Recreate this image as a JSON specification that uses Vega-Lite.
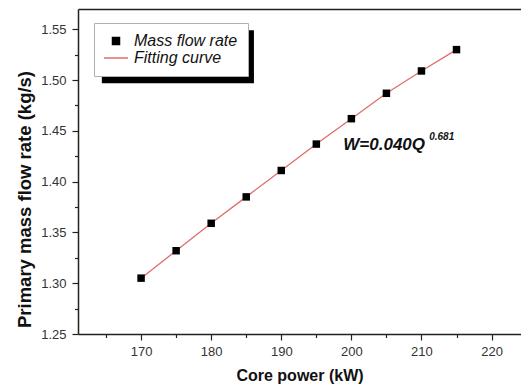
{
  "$schema": "https://vega.github.io/schema/vega-lite/v6.json",
  "width": 443,
  "height": 325,
  "autosize": {"type": "none"},
  "padding": {"left": 78, "top": 9, "right": 0, "bottom": 53},
  "background": "white",
  "config": {"view": {"stroke": null}, "font": "Liberation Sans"},
  "resolve": {"axis": {"x": "independent", "y": "independent"}},
  "datasets": {
    "measured": [
      {"power": 170, "flow": 1.305},
      {"power": 175, "flow": 1.332},
      {"power": 180, "flow": 1.359},
      {"power": 185, "flow": 1.385},
      {"power": 190, "flow": 1.411},
      {"power": 195, "flow": 1.437},
      {"power": 200, "flow": 1.462},
      {"power": 205, "flow": 1.487},
      {"power": 210, "flow": 1.509},
      {"power": 215, "flow": 1.530}
    ]
  },
  "layer": [
    {
      "data": {"values": [{}]},
      "mark": {"type": "rect", "color": "#000000"},
      "encoding": {
        "x": {"datum": 164.4, "type": "quantitative", "axis": null},
        "x2": {"datum": 186.1},
        "y": {"datum": 1.549, "type": "quantitative", "axis": null},
        "y2": {"datum": 1.497}
      }
    },
    {
      "data": {"name": "measured"},
      "mark": {"type": "line", "strokeWidth": 1.3},
      "encoding": {
        "x": {
          "field": "power", "type": "quantitative",
          "scale": {"domain": [161, 224.2], "nice": false, "zero": false},
          "axis": {
            "orient": "bottom",
            "values": [170, 180, 190, 200, 210, 220],
            "title": "Core power (kW)",
            "titleFontSize": 16, "titleFontWeight": "bold", "titleColor": "#111",
            "titlePadding": 9,
            "labelFontSize": 13, "labelColor": "#333", "labelPadding": 5,
            "tickSize": 6, "tickColor": "#222", "tickWidth": 1.2,
            "domainColor": "#222", "domainWidth": 1.5, "grid": false
          }
        },
        "y": {
          "field": "flow", "type": "quantitative",
          "scale": {"domain": [1.25, 1.57], "nice": false, "zero": false},
          "axis": {
            "orient": "left",
            "values": [1.25, 1.3, 1.35, 1.4, 1.45, 1.5, 1.55],
            "format": ".2f",
            "title": "Primary mass flow rate (kg/s)",
            "titleFontSize": 18.5, "titleFontWeight": "bold", "titleColor": "#111",
            "titlePadding": 6, "titleY": 190,
            "labelFontSize": 13, "labelColor": "#333", "labelPadding": 6,
            "tickSize": 6, "tickColor": "#222", "tickWidth": 1.2,
            "domainColor": "#222", "domainWidth": 1.5, "grid": false
          }
        },
        "color": {
          "datum": "Fitting curve",
          "scale": {"domain": ["Mass flow rate", "Fitting curve"], "range": ["#000000", "#e06c6c"]},
          "legend": {
            "title": null, "orient": "none", "legendX": 16, "legendY": 14,
            "fillColor": "white", "strokeColor": "#b0b0b0", "padding": 10,
            "symbolSize": 256, "rowPadding": 1, "symbolOffset": 4, "labelOffset": 10,
            "labelFontSize": 16, "labelFontStyle": "italic", "labelColor": "#111",
            "labelFont": "Liberation Sans", "labelLimit": 300, "cornerRadius": 0,
            "encode": {
              "symbols": {
                "update": {
                  "shape": {"signal": "datum.value === 'Fitting curve' ? 'stroke' : 'square'"},
                  "size": {"signal": "datum.value === 'Fitting curve' ? 576 : 49"},
                  "fill": {"signal": "datum.value === 'Fitting curve' ? 'transparent' : '#000000'"},
                  "stroke": {"signal": "datum.value === 'Fitting curve' ? '#e06c6c' : 'transparent'"},
                  "strokeWidth": {"value": 1.5},
                  "opacity": {"value": 1}
                }
              }
            }
          }
        }
      }
    },
    {
      "data": {"name": "measured"},
      "mark": {"type": "point", "shape": "square", "filled": true, "size": 56, "opacity": 1},
      "encoding": {
        "x": {"field": "power", "type": "quantitative", "axis": null},
        "y": {"field": "flow", "type": "quantitative", "axis": null},
        "color": {"datum": "Mass flow rate"}
      }
    },
    {
      "data": {"name": "measured"},
      "mark": {"type": "point", "opacity": 0},
      "encoding": {
        "x": {
          "field": "power", "type": "quantitative",
          "axis": {"orient": "bottom", "values": [165, 175, 185, 195, 205, 215], "labels": false, "domain": false, "title": null, "tickSize": 3.5, "tickColor": "#222", "tickWidth": 1.2, "grid": false}
        },
        "y": {
          "field": "flow", "type": "quantitative",
          "axis": {"orient": "left", "values": [1.275, 1.325, 1.375, 1.425, 1.475, 1.525], "labels": false, "domain": false, "title": null, "tickSize": 3.5, "tickColor": "#222", "tickWidth": 1.2, "grid": false}
        }
      }
    },
    {
      "data": {"name": "measured"},
      "mark": {"type": "point", "opacity": 0},
      "encoding": {
        "x": {
          "field": "power", "type": "quantitative",
          "axis": {"orient": "top", "labels": false, "ticks": false, "title": null, "domainColor": "#222", "domainWidth": 1.5, "grid": false}
        },
        "y": {"field": "flow", "type": "quantitative", "axis": null}
      }
    },
    {
      "data": {"values": [{}]},
      "mark": {"type": "text", "text": "W=0.040Q", "font": "Liberation Sans", "fontSize": 17, "fontWeight": "bold", "fontStyle": "italic", "align": "left", "baseline": "middle", "color": "#111"},
      "encoding": {
        "x": {"datum": 198.85, "type": "quantitative", "axis": null},
        "y": {"datum": 1.436, "type": "quantitative", "axis": null}
      }
    },
    {
      "data": {"values": [{}]},
      "mark": {"type": "text", "text": "0.681", "font": "Liberation Sans", "fontSize": 10, "fontWeight": "bold", "fontStyle": "italic", "align": "left", "baseline": "middle", "color": "#111"},
      "encoding": {
        "x": {"datum": 211.1, "type": "quantitative", "axis": null},
        "y": {"datum": 1.444, "type": "quantitative", "axis": null}
      }
    }
  ]
}
